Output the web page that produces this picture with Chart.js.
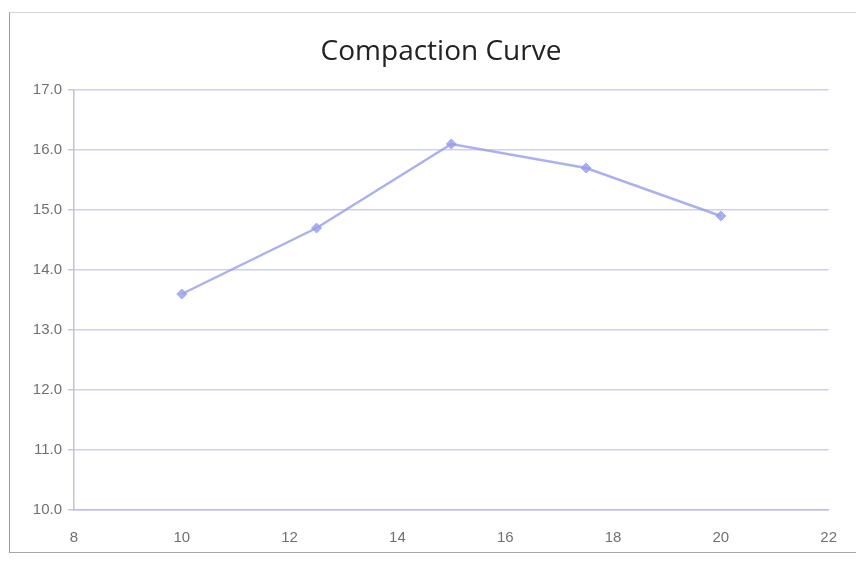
<!DOCTYPE html>
<html>
<head>
<meta charset="utf-8">
<script src="https://cdn.jsdelivr.net/npm/chart.js@4/dist/chart.umd.min.js"></script>
<style>
  html, body { margin: 0; padding: 0; background: #fff; }
  #wrap { position: relative; width: 856px; height: 563px; }
  #frame {
    position: absolute; left: 9px; top: 12px; width: 860px; height: 541px;
    border-left: 1px solid #9a9a9a; border-bottom: 1px solid #a8a8a8; border-top: 1px solid #d6d6d6;
    box-sizing: border-box;
  }
  canvas { position: absolute; left: 0; top: 0; }
</style>
</head>
<body>
<div id="wrap">
  <div id="frame"></div>
  <canvas id="c" width="856" height="563"></canvas>
</div>
<script>
// Moisture content (%) and dry unit weight readings
const moisture = [10, 12.5, 15, 17.5, 20];
const dryUnitWeight = [13.6, 14.7, 16.1, 15.7, 14.9];
const chartTitle = 'Compaction Curve';

const points = moisture.map((x, i) => ({ x: x, y: dryUnitWeight[i] }));
const lineColor = 'rgba(150,158,235,0.8)';
const gridColor = 'rgba(165,170,230,0.55)';
const tickColor = '#707070';

// Title drawn a little right of the canvas centre, above the plot
const titlePlugin = {
  id: 'chartHeading',
  afterDraw(chart) {
    const ctx = chart.ctx;
    ctx.save();
    ctx.font = '28px "Open Sans"';
    ctx.fillStyle = '#222';
    ctx.textAlign = 'center';
    ctx.textBaseline = 'middle';
    ctx.fillText(chartTitle, 441, 52);
    ctx.restore();
  }
};

new Chart(document.getElementById('c'), {
  type: 'scatter',
  data: {
    datasets: [{
      data: points,
      showLine: true,
      borderColor: lineColor,
      borderWidth: 2.5,
      backgroundColor: lineColor,
      pointStyle: 'rectRot',
      pointRadius: 5,
      pointBorderWidth: 1,
      pointBorderColor: lineColor,
      tension: 0
    }]
  },
  plugins: [titlePlugin],
  options: {
    responsive: false,
    animation: false,
    layout: { padding: { left: 14, right: 16, top: 90, bottom: 0 } },
    plugins: {
      legend: { display: false },
      tooltip: { enabled: false },
      title: { display: false }
    },
    scales: {
      x: {
        type: 'linear',
        min: 8, max: 22,
        ticks: { stepSize: 2, color: tickColor, font: { family: 'Liberation Sans', size: 15 }, padding: 19 },
        grid: { display: false, drawTicks: false },
        border: { display: true, color: gridColor, width: 1.5 },
        afterFit: s => { s.height = 53; }
      },
      y: {
        min: 10, max: 17,
        ticks: {
          stepSize: 1, color: tickColor, font: { family: 'Liberation Sans', size: 15 }, padding: 6,
          callback: v => Number(v).toFixed(1)
        },
        grid: { color: gridColor, lineWidth: 1.5, tickLength: 6, tickColor: 'rgba(160,160,190,0.6)' },
        border: { display: true, color: 'rgba(175,178,215,0.8)', width: 1.5 },
        afterFit: s => { s.width = 60; }
      }
    }
  }
});
</script>
</body>
</html>
